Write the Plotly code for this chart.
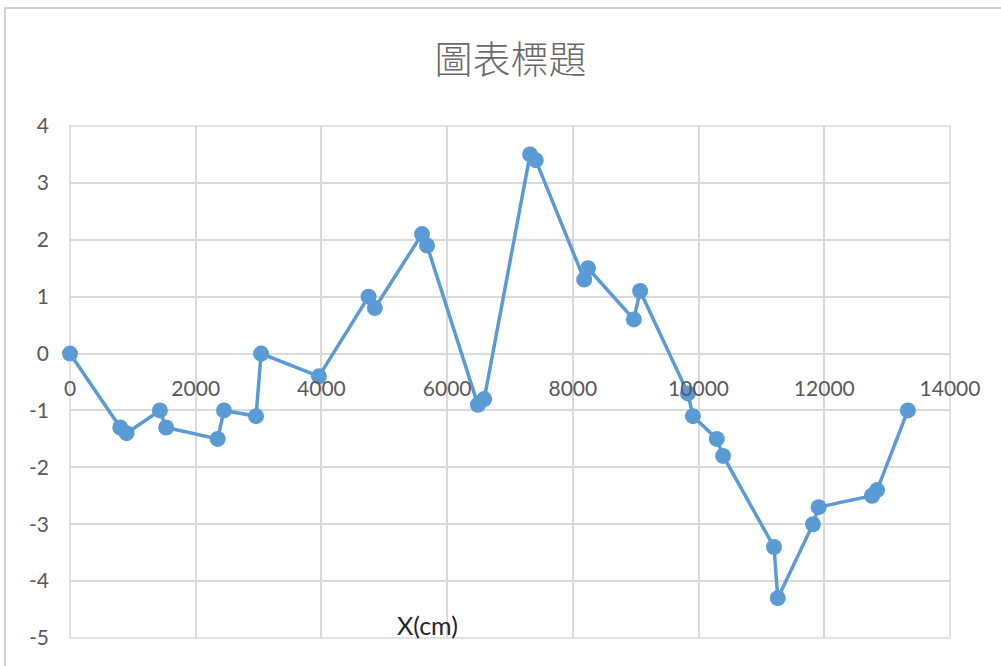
import plotly.graph_objects as go

# Survey profile: horizontal distance (cm) vs. measured offset
x_cm = [0, 800, 900, 1430, 1530, 2350, 2450, 2960, 3040, 3960,
        4750, 4850, 5600, 5680, 6490, 6590, 7320, 7410, 8180, 8240,
        8970, 9070, 9830, 9910, 10290, 10390, 11200, 11260, 11820, 11910,
        12760, 12840, 13330]
y_val = [0, -1.3, -1.4, -1.0, -1.3, -1.5, -1.0, -1.1, 0, -0.4,
         1.0, 0.8, 2.1, 1.9, -0.9, -0.8, 3.5, 3.4, 1.3, 1.5,
         0.6, 1.1, -0.7, -1.1, -1.5, -1.8, -3.4, -4.3, -3.0, -2.7,
         -2.5, -2.4, -1.0]

x_ticks = [0, 2000, 4000, 6000, 8000, 10000, 12000, 14000]
y_ticks = [-5, -4, -3, -2, -1, 0, 1, 2, 3, 4]

title_text = "圖表標題"
x_title = "X(cm)"

GRID = "#d9d9d9"
TICK_FONT = dict(family="Lato, Open Sans, sans-serif", size=21, color="#595959")

fig = go.Figure()
fig.add_trace(go.Scatter(
    x=x_cm, y=y_val, mode="lines+markers",
    line=dict(color="#5b9bd5", width=3.5),
    marker=dict(color="#5b9bd5", size=16),
    showlegend=False, cliponaxis=False,
))

fig.update_layout(
    width=1001, height=666,
    margin=dict(l=70, r=51, t=126, b=28),
    paper_bgcolor="white", plot_bgcolor="white",
    title=dict(text=title_text, x=0.51, xanchor="center", y=0.91, yanchor="middle",
               font=dict(family="Noto Sans CJK TC", size=38, color="#6a6a6a", weight=300)),
    xaxis=dict(range=[0, 14000], tickvals=x_ticks, ticktext=[str(v) for v in x_ticks],
               showgrid=True, gridcolor=GRID, gridwidth=1.5, zeroline=False,
               showline=False, anchor="free", position=5 / 9,
               ticks="", ticklabelstandoff=20, tickfont=TICK_FONT),
    yaxis=dict(range=[-5, 4], tickvals=y_ticks, ticktext=[str(v) for v in y_ticks],
               showgrid=True, gridcolor=GRID, gridwidth=1.5,
               zeroline=True, zerolinecolor=GRID, zerolinewidth=1.5,
               showline=False, ticks="", ticklabelstandoff=20, tickfont=TICK_FONT),
    shapes=[
        # plot-area edges drawn as gridlines
        dict(type="rect", xref="paper", yref="paper", x0=0, x1=1, y0=0, y1=1,
             line=dict(color=GRID, width=1.5), layer="below"),
        # outer chart frame
        dict(type="rect", xref="paper", yref="paper", x0=-0.074, x1=1.5, y0=-0.5, y1=1.2305,
             line=dict(color="#d0d0d0", width=2), layer="below"),
    ],
    annotations=[
        dict(text=x_title, xref="paper", yref="paper", x=(427 - 70) / 880, y=(638 - 625) / 512,
             xanchor="center", yanchor="middle", showarrow=False,
             font=dict(family="Lato, Open Sans, sans-serif", size=25, color="#262626")),
    ],
)

fig.write_html("out.html")
